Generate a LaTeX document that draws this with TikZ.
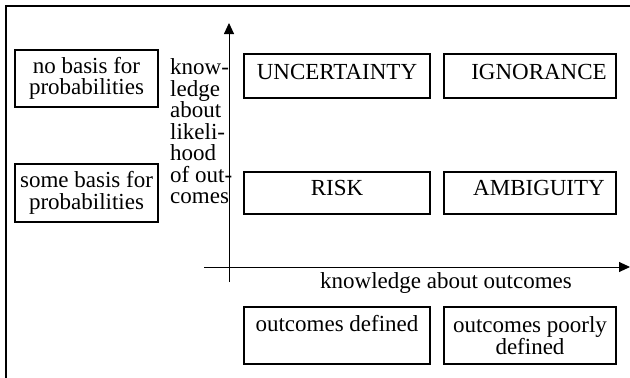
\documentclass[tikz,border=0pt]{standalone}
\usepackage{fontspec}
\setmainfont{Liberation Serif}
\usetikzlibrary{arrows.meta}
\begin{document}
\begin{tikzpicture}[x=1pt,y=-1pt,
  txt/.style={font=\fontsize{23}{21.5}\selectfont},
  cell/.style={txt,draw,line width=1.1pt,inner sep=0pt,align=center},
  wcell/.style={cell,minimum width=186pt},
  ncell/.style={cell,minimum width=172pt},
  lcell/.style={cell,minimum width=143pt},
  axis/.style={line width=0.9pt,-{Triangle[length=11pt,width=10pt]}},
  frame/.style={line width=1.2pt}]
\useasboundingbox (0,0) rectangle (630,378);
% frame (top and left edges only)
\coordinate (f1) at (6,378);
\coordinate (f2) at (6,6);
\coordinate (f3) at (630,6);
\draw[frame] (f1) -- (f2) -- (f3);
% row labels
\node[lcell,minimum height=57pt] (nobasis) at (86.5,78.5) {no basis for\\probabilities};
\node[lcell,minimum height=58pt] (somebasis) at (86.5,193) {some basis for\\probabilities};
% vertical axis label
\node[txt,anchor=north west,inner sep=0pt,align=left] (ylab) at (170,58.8) {know-\\ledge\\about\\likeli-\\hood\\of out-\\comes};
% cells
\node[wcell,minimum height=44pt,text height=16pt,text depth=10pt] (uncert) at (337,76) {UNCERTAINTY};
\node[ncell,minimum height=44pt,text height=16pt,text depth=10pt] (ignor) at (530,76) {\hspace*{18pt}IGNORANCE};
\node[wcell,minimum height=42pt,text height=16pt,text depth=12pt] (risk) at (337,193) {RISK};
\node[ncell,minimum height=42pt,text height=16pt,text depth=12pt] (ambig) at (530,193) {\hspace*{18pt}AMBIGUITY};
% column labels
\node[wcell,minimum height=57pt,text height=16pt,text depth=23.5pt] (outdef) at (337,335.5) {outcomes defined};
\node[ncell,minimum height=57pt] (outpoor) at (530,335.5) {outcomes poorly\\defined};
% axes
\coordinate (ybot) at (229,282);
\coordinate (ytop) at (229,23);
\coordinate (xleft) at (204,267);
\coordinate (xright) at (630,267);
\draw[axis] (ybot) -- (ytop);
\draw[axis] (xleft) -- (xright);
\node[txt,anchor=base,inner sep=0pt] (xlab) at (446,288) {knowledge about outcomes};
\end{tikzpicture}
\end{document}
